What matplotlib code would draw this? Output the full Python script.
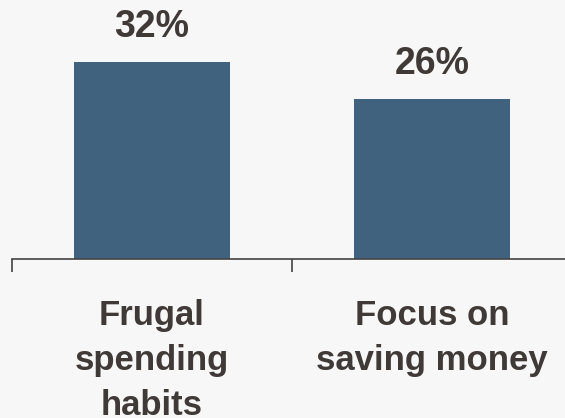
import matplotlib
matplotlib.use("Agg")
import matplotlib.pyplot as plt

categories = ["Frugal\nspending\nhabits", "Focus on\nsaving money"]
shares = [32, 26]

BAR = "#41627e"
TEXT = "#3f3a37"
BG = "#f7f7f7"

plt.rcParams["font.family"] = ["Liberation Sans", "DejaVu Sans"]

fig = plt.figure(figsize=(5.65, 4.18), dpi=100, facecolor=BG)
ax = fig.add_axes([12 / 565, 159 / 418, 560 / 565, 246 / 418], facecolor=BG)

x = list(range(len(shares)))
bars = ax.bar(x, shares, width=0.56, color=BAR, zorder=2)
for b, v in zip(bars, shares):
    ax.annotate(f"{v}%", (b.get_x() + b.get_width() / 2, v), xytext=(0, 18),
                textcoords="offset points", ha="center", va="baseline",
                fontsize=27, fontweight="bold", color=TEXT)

ax.set_xlim(-0.5, 1.5)
ax.set_ylim(0, 40)

# category labels sit between boundary ticks
ax.set_xticks(x)
ax.set_xticklabels(categories, fontsize=25, fontweight="bold", color=TEXT,
                   linespacing=1.45)
ax.tick_params(axis="x", which="major", length=0, pad=29)
ax.set_xticks([-0.5, 0.5, 1.5], minor=True)
ax.tick_params(axis="x", which="minor", length=9, width=1.2, color="#444444")
ax.set_yticks([])

for s in ["top", "right", "left"]:
    ax.spines[s].set_visible(False)
ax.spines["bottom"].set_color("#444444")
ax.spines["bottom"].set_linewidth(1.2)
ax.spines["bottom"].set_zorder(3)

fig.savefig("out.png", dpi=100, facecolor=BG)
